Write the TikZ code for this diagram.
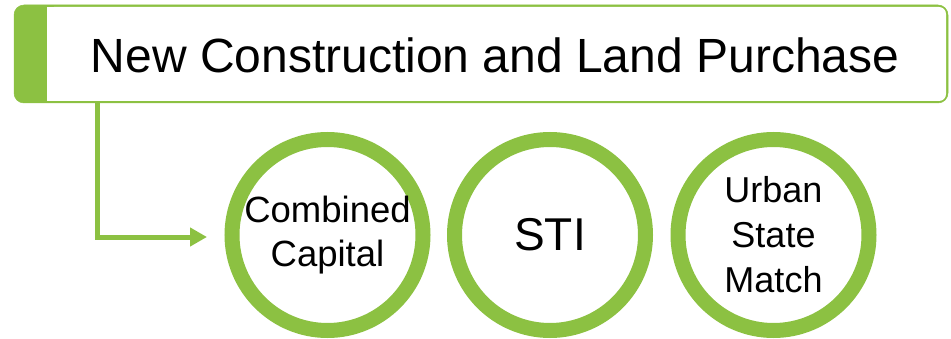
\documentclass[tikz,border=0pt]{standalone}
\usepackage{fontspec}
\setmainfont{Liberation Sans}
\usetikzlibrary{arrows.meta}
\definecolor{lgreen}{RGB}{140,193,66}
\tikzset{
  ring/.style={circle, draw=lgreen, line width=15pt, fill=white, minimum size=191pt, inner sep=0pt, align=center, font=\fontsize{36.5pt}{44pt}\selectfont},
  connector/.style={draw=lgreen, line width=5pt, line join=miter, -{Triangle[length=17pt,width=18pt]}},
}
\begin{document}
\begin{tikzpicture}[x=1pt,y=1pt]
\useasboundingbox (0,0) rectangle (951,338);
% header
\node[draw=lgreen, fill=lgreen, line width=0.5pt, rounded corners=10pt, minimum width=934pt, minimum height=98pt, inner sep=0pt] (hdr) at (481,284) {};
\fill[white, rounded corners=7pt] (47,237) -- (946,237) -- (946,331) -- (47,331) [sharp corners] -- cycle;
\fill[white] (47,237) rectangle (60,331);
\node[font=\fontsize{48pt}{57pt}\selectfont, inner sep=0pt] (title) at (495,283) {New Construction and Land Purchase};
% circles
\node[ring] (cc) at (327.5,103) {\raisebox{-4pt}{\parbox{168pt}{\centering Combined\\Capital}}};
\node[ring, font=\fontsize{46pt}{55pt}\selectfont] (sti) at (550,103) {STI};
\node[ring, font=\fontsize{36pt}{45pt}\selectfont] (usm) at (773.5,103) {\raisebox{-3pt}{\parbox{110pt}{\centering Urban\\State\\Match}}};
% connector
\coordinate (start) at (97,235);
\coordinate (tip) at (207,101);
\draw[connector] (start) |- (tip);
\end{tikzpicture}
\end{document}
